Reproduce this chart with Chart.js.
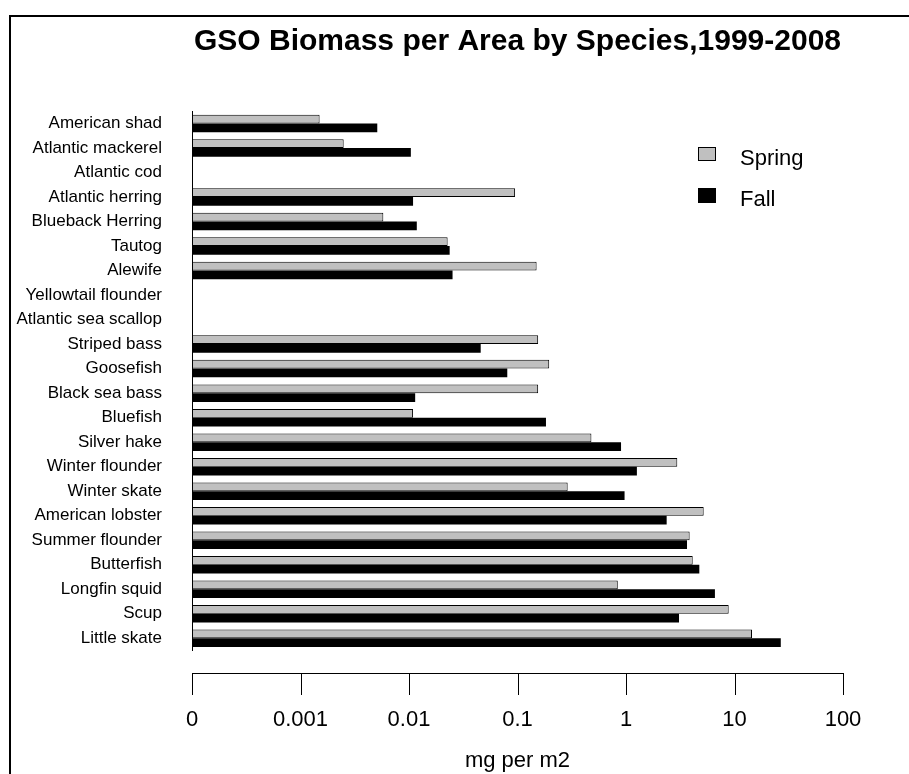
<!DOCTYPE html>
<html>
<head>
<meta charset="utf-8">
<script src="https://cdn.jsdelivr.net/npm/chart.js@4.4.0/dist/chart.umd.min.js"></script>
<style>
  html, body { margin: 0; padding: 0; background: #fff; overflow: hidden; }
  #wrap { position: relative; width: 909px; height: 774px; overflow: hidden; }
  #frame { position: absolute; left: 9px; top: 15px; width: 920px; height: 780px; border-left: 2px solid #000; border-top: 2px solid #000; }
  #chart { position: absolute; left: 0; top: 0; }
</style>
</head>
<body>
<div id="wrap">
  <div id="frame"></div>
  <canvas id="chart" width="909" height="774"></canvas>
</div>
<script>
const species = [
  'American shad', 'Atlantic mackerel', 'Atlantic cod', 'Atlantic herring', 'Blueback Herring',
  'Tautog', 'Alewife', 'Yellowtail flounder', 'Atlantic sea scallop', 'Striped bass',
  'Goosefish', 'Black sea bass', 'Bluefish', 'Silver hake', 'Winter flounder', 'Winter skate',
  'American lobster', 'Summer flounder', 'Butterfish', 'Longfin squid', 'Scup', 'Little skate'
];
const spring = [0.0015, 0.0025, 0, 0.095, 0.0058, 0.0227, 0.150, 0, 0, 0.155,
  0.196, 0.155, 0.0109, 0.48, 2.97, 0.29, 5.2, 3.86, 4.12, 0.84, 8.84, 14.5];
const fall = [0.0051, 0.0104, 0, 0.0109, 0.0118, 0.0237, 0.0252, 0, 0, 0.0458,
  0.0805, 0.0114, 0.183, 0.90, 1.26, 0.97, 2.37, 3.65, 4.74, 6.6, 3.08, 26.7];
const tickValues = [0.0001, 0.001, 0.01, 0.1, 1, 10, 100];
const tickLabels = ['0', '0.001', '0.01', '0.1', '1', '10', '100'];

const FONT = "'Liberation Sans', Arial, sans-serif";
Chart.defaults.font.family = FONT;
Chart.defaults.color = '#000';

// detached x axis line + tick marks, like the original
const axisLine = {
  id: 'axisLine',
  afterDraw(chart) {
    const sx = chart.scales.x, ctx = chart.ctx;
    const y0 = 673.5, y1 = 695;
    ctx.save();
    ctx.strokeStyle = '#000';
    ctx.lineWidth = 1;
    ctx.beginPath();
    ctx.moveTo(Math.round(sx.getPixelForValue(tickValues[0])), y0);
    ctx.lineTo(Math.round(sx.getPixelForValue(tickValues[tickValues.length - 1])) + 1, y0);
    tickValues.forEach(v => {
      const px = Math.round(sx.getPixelForValue(v)) + 0.5;
      ctx.moveTo(px, y0);
      ctx.lineTo(px, y1);
    });
    ctx.stroke();
    ctx.restore();
  }
};

const boxLegend = {
  id: 'boxLegend',
  afterDraw(chart) {
    const ctx = chart.ctx;
    const rows = [{ y: 147, h: 14, base: 165 }, { y: 188, h: 15, base: 206 }];
    ctx.save();
    chart.data.datasets.forEach((ds, i) => {
      const r = rows[i];
      ctx.fillStyle = ds.backgroundColor;
      ctx.fillRect(698, r.y, 18, r.h);
      ctx.strokeStyle = '#000';
      ctx.lineWidth = 1;
      ctx.strokeRect(698.5, r.y + 0.5, 17, r.h - 1);
      ctx.fillStyle = '#000';
      ctx.font = '22px ' + FONT;
      ctx.textBaseline = 'alphabetic';
      ctx.fillText(ds.label, 740, r.base);
    });
    ctx.restore();
  }
};

new Chart(document.getElementById('chart').getContext('2d'), {
  type: 'bar',
  data: {
    labels: species,
    datasets: [
      { label: 'Spring', data: spring, backgroundColor: '#c0c0c0', borderColor: '#000', borderWidth: 1, borderSkipped: false },
      { label: 'Fall', data: fall, backgroundColor: '#000', borderColor: '#000', borderWidth: 0 },
    ],
  },
  options: {
    indexAxis: 'y',
    responsive: false,
    animation: false,
    categoryPercentage: 0.714,
    barPercentage: 1,
    layout: { autoPadding: false, padding: { left: 0, right: 66, top: 0, bottom: 0 } },
    plugins: {
      legend: { display: false },
      tooltip: { enabled: false },
      title: {
        display: true,
        text: 'GSO Biomass per Area by Species,1999-2008',
        fullSize: false,
        font: { size: 30, weight: 'bold' },
        color: '#000',
        padding: { top: 24, bottom: 51.25 },
      },
    },
    scales: {
      x: {
        type: 'logarithmic',
        min: 0.0001,
        max: 100,
        afterBuildTicks: s => { s.ticks = tickValues.map(v => ({ value: v })); },
        afterFit: s => { s.height = 123.5; s.paddingLeft = 0; s.paddingRight = 0; },
        grid: { display: false, drawTicks: false },
        border: { display: false },
        ticks: {
          font: { size: 22 },
          padding: 56,
          maxRotation: 0,
          autoSkip: false,
          callback: (v, i) => tickLabels[i],
        },
        title: { display: true, text: 'mg per m2', font: { size: 22 }, padding: { top: 0, bottom: 0 } },
      },
      y: {
        afterFit: s => { s.width = 192; },
        grid: { display: false, drawTicks: false },
        border: { display: true, color: '#000', width: 1 },
        ticks: { font: { size: 17 }, padding: 30, autoSkip: false },
      },
    },
  },
  plugins: [axisLine, boxLegend],
});
</script>
</body>
</html>
